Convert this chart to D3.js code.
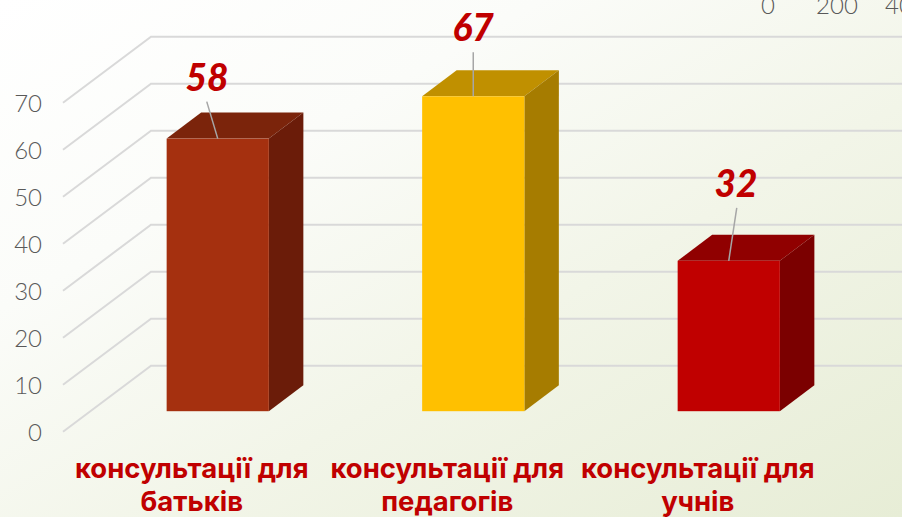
<!DOCTYPE html>
<html>
<head>
<meta charset="utf-8">
<script src="https://cdnjs.cloudflare.com/ajax/libs/d3/7.8.5/d3.min.js"></script>
<style>
html, body { margin: 0; padding: 0; background: #fff; overflow: hidden; }
</style>
</head>
<body>
<div id="chart"></div>
<script>
var width = 902, height = 517

var categories = ['батьків', 'педагогів', 'учнів']
var values = [58, 67, 32]
var yTicks = [0, 10, 20, 30, 40, 50, 60, 70]
var strayTicks = ['0', '200', '400']
var faceColors = ['#A5300F', '#FFC000', '#C00000']
var topColors = ['#7B240B', '#C09000', '#900000']
var sideColors = ['#6B1C09', '#A67C00', '#7B0000']

// leader line end relative to the top of the bar, then label x and baseline
var leaders = [[-11, -37, 207, 90.5], [0, -44, 473, 40.5], [8, -53, 736, 196.5]]
// the category labels do not sit quite under their bars
var labelShift = [-26, -26, -31]

var svg = d3.select('#chart').append('svg')
    .attr('width', width)
    .attr('height', height)

var grad = svg.append('defs').append('linearGradient')
    .attr('id', 'bg')
    .attr('x1', '0%').attr('y1', '0%')
    .attr('x2', '100%').attr('y2', '100%')
grad.append('stop').attr('offset', '0%').attr('stop-color', '#FFFFFF')
grad.append('stop').attr('offset', '30%').attr('stop-color', '#FBFCF9')
grad.append('stop').attr('offset', '60%').attr('stop-color', '#F2F5E8')
grad.append('stop').attr('offset', '100%').attr('stop-color', '#E7EDD6')

svg.append('rect')
    .attr('width', width)
    .attr('height', height)
    .attr('fill', 'url(#bg)')

// front plane of the 3d box
var y = d3.scaleLinear().domain([0, 70]).range([431.7, 102.7])
var x = d3.scaleBand().domain(categories).range([90, 856.5])
    .paddingInner(0.6).paddingOuter(0.3)

var wallDx = 88, wallDy = -66
var barOffsetY = -20.5, barDx = 34.5, barDy = -26

var grid = svg.append('g')
grid.selectAll('polyline')
    .data(yTicks)
    .enter()
    .append('polyline')
    .attr('points', function(d) {
        return [[63, y(d)], [63 + wallDx, y(d) + wallDy], [width, y(d) + wallDy]].join(' ')
    })
    .attr('fill', 'none')
    .attr('stroke', '#D9D9D9')
    .attr('stroke-width', 2)

svg.append('g').selectAll('text')
    .data(yTicks)
    .enter()
    .append('text')
    .attr('x', 42)
    .attr('y', function(d) { return y(d) + 9 })
    .attr('text-anchor', 'end')
    .attr('font-family', 'Lato')
    .attr('font-weight', 300)
    .attr('font-size', 24)
    .attr('fill', '#595959')
    .text(function(d) { return d })

// leftover axis from another chart, cut off at the top
svg.append('g').selectAll('text')
    .data(strayTicks)
    .enter()
    .append('text')
    .attr('x', function(d, i) { return 768 + i * 69 })
    .attr('y', 14)
    .attr('text-anchor', 'middle')
    .attr('font-family', 'Lato')
    .attr('font-weight', 300)
    .attr('font-size', 24)
    .attr('fill', '#595959')
    .text(function(d) { return d })

var bars = svg.append('g').selectAll('g')
    .data(values)
    .enter()
    .append('g')

function barY(v) { return y(v) + barOffsetY }
function barX(i) { return x(categories[i]) }

bars.append('polygon')
    .attr('points', function(d, i) {
        var l = barX(i), r = l + x.bandwidth(), t = barY(d)
        return [[l, t], [l + barDx, t + barDy], [r + barDx, t + barDy], [r, t]].join(' ')
    })
    .attr('fill', function(d, i) { return topColors[i] })

bars.append('polygon')
    .attr('points', function(d, i) {
        var r = barX(i) + x.bandwidth(), t = barY(d), b = barY(0)
        return [[r, t], [r + barDx, t + barDy], [r + barDx, b + barDy], [r, b]].join(' ')
    })
    .attr('fill', function(d, i) { return sideColors[i] })

bars.append('rect')
    .attr('x', function(d, i) { return barX(i) })
    .attr('y', function(d) { return barY(d) })
    .attr('width', x.bandwidth())
    .attr('height', function(d) { return barY(0) - barY(d) })
    .attr('fill', function(d, i) { return faceColors[i] })

bars.append('line')
    .attr('x1', function(d, i) { return barX(i) + x.bandwidth() / 2 })
    .attr('y1', function(d) { return barY(d) })
    .attr('x2', function(d, i) { return barX(i) + x.bandwidth() / 2 + leaders[i][0] })
    .attr('y2', function(d, i) { return barY(d) + leaders[i][1] })
    .attr('stroke', '#A6A6A6')
    .attr('stroke-width', 1.5)

bars.append('text')
    .attr('x', function(d, i) { return leaders[i][2] })
    .attr('y', function(d, i) { return leaders[i][3] })
    .attr('text-anchor', 'middle')
    .attr('font-family', 'Lato')
    .attr('font-weight', 900)
    .attr('font-style', 'italic')
    .attr('font-size', 37)
    .attr('fill', '#C00000')
    .text(function(d) { return d })

var labels = svg.append('g').selectAll('text')
    .data(categories)
    .enter()
    .append('text')
    .attr('text-anchor', 'middle')
    .attr('font-family', 'Inter')
    .attr('font-weight', 700)
    .attr('font-size', 27.5)
    .attr('fill', '#C00000')

labels.append('tspan')
    .attr('x', function(d, i) { return x(d) + x.bandwidth() / 2 + labelShift[i] })
    .attr('y', 478)
    .text('консультації для')

labels.append('tspan')
    .attr('x', function(d, i) { return x(d) + x.bandwidth() / 2 + labelShift[i] })
    .attr('y', 511)
    .text(function(d) { return d })
</script>
</body>
</html>
